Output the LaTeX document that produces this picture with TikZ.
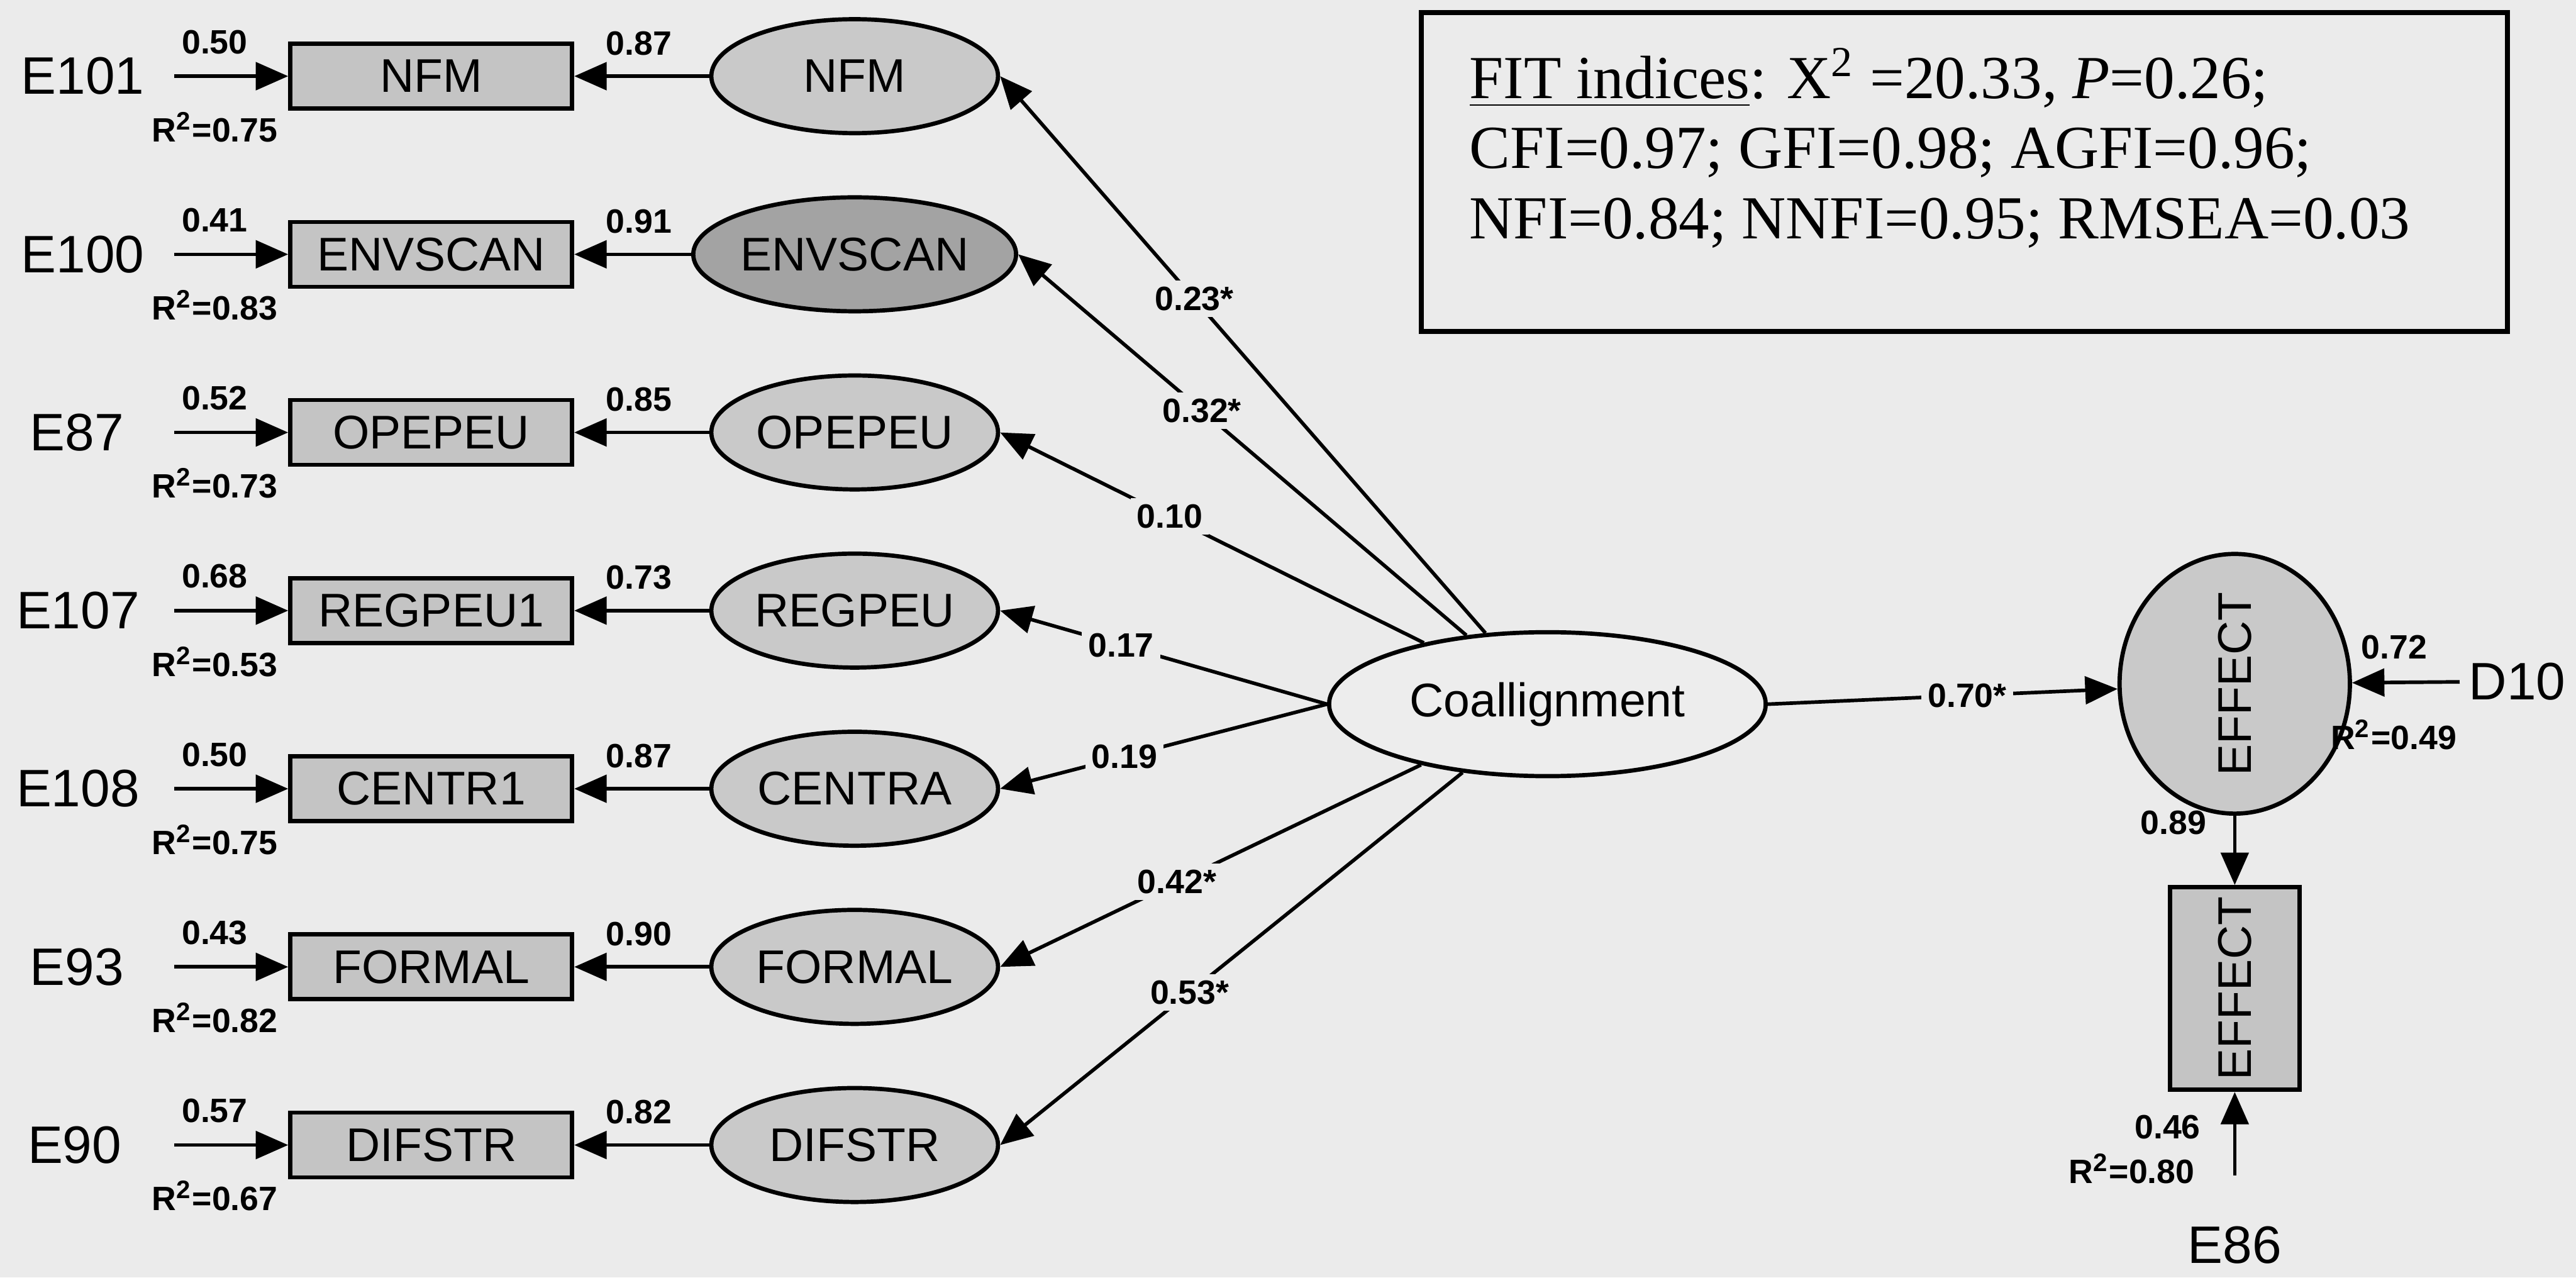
\documentclass[tikz,border=0pt]{standalone}
\usepackage{fontspec}
\setmainfont{Liberation Sans}
\newfontfamily\fitfont{Liberation Serif}
\usetikzlibrary{shapes.geometric, positioning, arrows.meta}

\definecolor{pagebg}{gray}{0.92}
\definecolor{latfill}{gray}{0.79}
\definecolor{latdark}{gray}{0.64}
\definecolor{boxfill}{gray}{0.77}
\definecolor{coalfill}{gray}{0.93}

\begin{document}
\begin{tikzpicture}[
          % Base node styles
          manifest/.style={rectangle, draw=black, line width=1pt, fill=boxfill, minimum width=2.35cm, minimum height=0.54cm, inner sep=0pt, font=\fontsize{11.2}{13}\selectfont},
          latent/.style={ellipse, draw=black, line width=1pt, fill=latfill, minimum width=2.39cm, minimum height=0.95cm, inner sep=0pt, font=\fontsize{11.2}{13}\selectfont},
          errname/.style={inner sep=2pt, font=\fontsize{12.5}{14}\selectfont},
          coef/.style={inner sep=1pt, font=\bfseries\fontsize{8}{9}\selectfont},
          pathcoef/.style={coef, fill=pagebg, inner sep=1.5pt},
          fitbox/.style={rectangle, draw=black, line width=1.2pt},
          % Arrow styles
          semarrow/.style={-{Triangle[length=2.7mm, width=2.3mm]}, line width=0.85pt}
        ]
          % page background, fixes the margins
          \path[use as bounding box, fill=pagebg] (0,0) rectangle (21.475,-10.65);

          % ==========================================
          % 1. Measured variables and first order factors
          % ==========================================
          \node[errname, anchor=east] (e101) at (1.28,-0.635) {E101};
          \node[manifest] (nfm_box) at (3.595,-0.635) {NFM};
          \node[latent] (nfm_lat) at (7.125,-0.635) {NFM};
          \node[coef] (e101_c) at (1.79,-0.35) {0.50};
          \node[coef] (e101_r) at (1.79,-1.06) {R\textsuperscript{2}=0.75};
          \node[coef] (nfm_c) at (5.325,-0.36) {0.87};

          \node[errname, anchor=east] (e100) at (1.28,-2.12) {E100};
          \node[manifest] (envscan_box) at (3.595,-2.12) {ENVSCAN};
          \node[latent, fill=latdark] (envscan_lat) at (7.125,-2.12) {ENVSCAN};
          \node[coef] (e100_c) at (1.79,-1.835) {0.41};
          \node[coef] (e100_r) at (1.79,-2.545) {R\textsuperscript{2}=0.83};
          \node[coef] (envscan_c) at (5.325,-1.845) {0.91};

          \node[errname, anchor=east] (e87) at (1.11,-3.605) {E87};
          \node[manifest] (opepeu_box) at (3.595,-3.605) {OPEPEU};
          \node[latent] (opepeu_lat) at (7.125,-3.605) {OPEPEU};
          \node[coef] (e87_c) at (1.79,-3.32) {0.52};
          \node[coef] (e87_r) at (1.79,-4.03) {R\textsuperscript{2}=0.73};
          \node[coef] (opepeu_c) at (5.325,-3.33) {0.85};

          \node[errname, anchor=east] (e107) at (1.24,-5.09) {E107};
          \node[manifest] (regpeu_box) at (3.595,-5.09) {REGPEU1};
          \node[latent] (regpeu_lat) at (7.125,-5.09) {REGPEU};
          \node[coef] (e107_c) at (1.79,-4.805) {0.68};
          \node[coef] (e107_r) at (1.79,-5.515) {R\textsuperscript{2}=0.53};
          \node[coef] (regpeu_c) at (5.325,-4.815) {0.73};

          \node[errname, anchor=east] (e108) at (1.24,-6.575) {E108};
          \node[manifest] (centra_box) at (3.595,-6.575) {CENTR1};
          \node[latent] (centra_lat) at (7.125,-6.575) {CENTRA};
          \node[coef] (e108_c) at (1.79,-6.29) {0.50};
          \node[coef] (e108_r) at (1.79,-7.0) {R\textsuperscript{2}=0.75};
          \node[coef] (centra_c) at (5.325,-6.30) {0.87};

          \node[errname, anchor=east] (e93) at (1.11,-8.06) {E93};
          \node[manifest] (formal_box) at (3.595,-8.06) {FORMAL};
          \node[latent] (formal_lat) at (7.125,-8.06) {FORMAL};
          \node[coef] (e93_c) at (1.79,-7.775) {0.43};
          \node[coef] (e93_r) at (1.79,-8.485) {R\textsuperscript{2}=0.82};
          \node[coef] (formal_c) at (5.325,-7.785) {0.90};

          \node[errname, anchor=east] (e90) at (1.09,-9.545) {E90};
          \node[manifest] (difstr_box) at (3.595,-9.545) {DIFSTR};
          \node[latent] (difstr_lat) at (7.125,-9.545) {DIFSTR};
          \node[coef] (e90_c) at (1.79,-9.26) {0.57};
          \node[coef] (e90_r) at (1.79,-9.97) {R\textsuperscript{2}=0.67};
          \node[coef] (difstr_c) at (5.325,-9.27) {0.82};

          % ==========================================
          % 2. Second order factor and outcome
          % ==========================================
          \node[latent, fill=coalfill, minimum width=3.64cm, minimum height=1.2cm] (coal) at (12.9,-5.87) {Coallignment};
          \node[latent, rotate=90, minimum width=1.675cm, minimum height=1.92cm] (effect_lat) at (18.63,-5.70) {EFFECT};
          \node[manifest, rotate=90, minimum width=1.69cm, minimum height=1.08cm] (effect_box) at (18.63,-8.24) {EFFECT};
          \node[errname] (d10) at (20.985,-5.68) {D10};
          \node[errname] (e86) at (18.63,-10.38) {E86};
          \node[coef] (d10_c) at (19.96,-5.395) {0.72};
          \node[coef] (d10_r) at (19.955,-6.125) {R\textsuperscript{2}=0.49};
          \node[coef] (effect_c) at (18.12,-6.86) {0.89};
          \node[coef] (e86_c) at (18.07,-9.395) {0.46};
          \node[coef] (e86_r) at (17.77,-9.74) {R\textsuperscript{2}=0.80};

          % ==========================================
          % 3. Fit indices
          % ==========================================
          \node[fitbox, minimum width=9.055cm, minimum height=2.66cm] (fit_box) at (16.378,-1.435) {};
          \node[anchor=north west, align=left, inner sep=0pt, font=\fitfont\fontsize{14.5}{16.6}\selectfont] (fit_txt) at ([xshift=0.415cm, yshift=-0.31cm]fit_box.north west)
            {\underline{FIT indices}: X\textsuperscript{2} =20.33, \textit{P}=0.26;\\
             CFI=0.97; GFI=0.98; AGFI=0.96;\\
             NFI=0.84; NNFI=0.95; RMSEA=0.03};

          % ==========================================
          % 4. Edges
          % ==========================================
          % error terms into the measured variables
          \draw[semarrow] ([xshift=-0.95cm]nfm_box.west) -- (nfm_box.west);
          \draw[semarrow] ([xshift=-0.95cm]envscan_box.west) -- (envscan_box.west);
          \draw[semarrow] ([xshift=-0.95cm]opepeu_box.west) -- (opepeu_box.west);
          \draw[semarrow] ([xshift=-0.95cm]regpeu_box.west) -- (regpeu_box.west);
          \draw[semarrow] ([xshift=-0.95cm]centra_box.west) -- (centra_box.west);
          \draw[semarrow] ([xshift=-0.95cm]formal_box.west) -- (formal_box.west);
          \draw[semarrow] ([xshift=-0.95cm]difstr_box.west) -- (difstr_box.west);

          % loadings
          \draw[semarrow] (nfm_lat.west) -- (nfm_box.east);
          \draw[semarrow] (envscan_lat.west) -- (envscan_box.east);
          \draw[semarrow] (opepeu_lat.west) -- (opepeu_box.east);
          \draw[semarrow] (regpeu_lat.west) -- (regpeu_box.east);
          \draw[semarrow] (centra_lat.west) -- (centra_box.east);
          \draw[semarrow] (formal_lat.west) -- (formal_box.east);
          \draw[semarrow] (difstr_lat.west) -- (difstr_box.east);

          % second order paths
          \draw[semarrow] (coal) -- node[pathcoef, pos=0.6] (nfm_p) {0.23*} (nfm_lat.east);
          \draw[semarrow] (coal) -- node[pathcoef, pos=0.59] (envscan_p) {0.32*} (envscan_lat.east);
          \draw[semarrow] (coal) -- node[pathcoef, pos=0.6] (opepeu_p) {0.10} (opepeu_lat.east);
          \draw[semarrow] (coal.west) -- node[pathcoef, pos=0.63] (regpeu_p) {0.17} (regpeu_lat.east);
          \draw[semarrow] (coal.west) -- node[pathcoef, pos=0.62] (centra_p) {0.19} (centra_lat.east);
          \draw[semarrow] (coal) -- node[pathcoef, pos=0.58] (formal_p) {0.42*} (formal_lat.east);
          \draw[semarrow] (coal) -- node[pathcoef, pos=0.59] (difstr_p) {0.53*} (difstr_lat.east);

          % structural path and outcome
          \draw[semarrow] (coal.east) -- node[pathcoef, pos=0.57] (effect_p) {0.70*} (effect_lat);
          \draw[semarrow] (d10) -- (effect_lat);
          \draw[semarrow] (effect_lat) -- (effect_box);
          \draw[semarrow] ([yshift=0.35cm]e86.north) -- (effect_box);
        \end{tikzpicture}
\end{document}
